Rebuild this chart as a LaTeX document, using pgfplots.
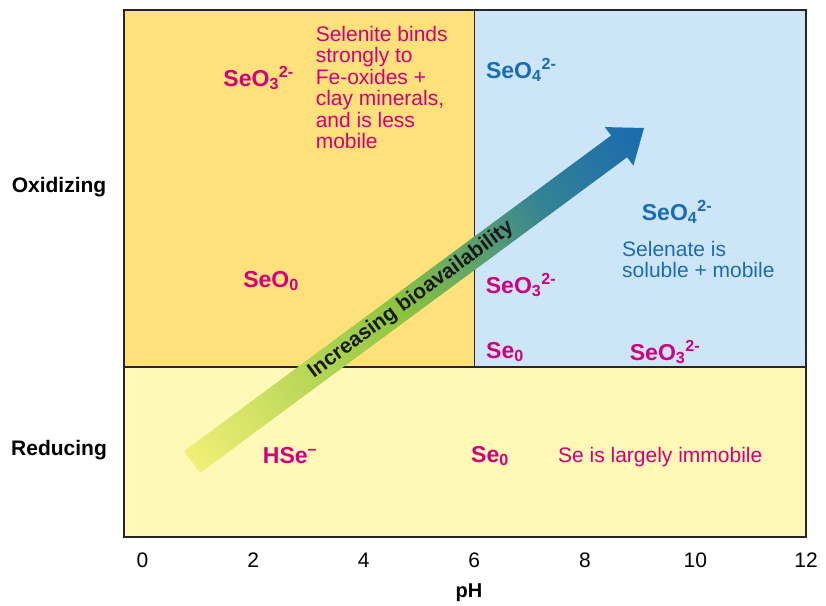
\documentclass[border=0pt]{standalone}
\usepackage{fontspec}
\setmainfont{Liberation Sans}
\usepackage{pgfplots}
\pgfplotsset{compat=1.18}

\definecolor{oxyel}{RGB}{254,225,122}
\definecolor{oxblue}{RGB}{205,230,247}
\definecolor{redyel}{RGB}{255,248,183}
\definecolor{mag}{RGB}{209,0,125}
\definecolor{sblue}{RGB}{26,107,181}
\definecolor{arrY}{RGB}{255,246,125}
\definecolor{arrG}{RGB}{140,196,64}
\definecolor{arrT}{RGB}{50,130,150}
\definecolor{arrB}{RGB}{24,104,178}
\pgfdeclarehorizontalshading{bio}{100bp}{color(0bp)=(arrY); color(12bp)=(arrY); color(48bp)=(arrG); color(70bp)=(arrT); color(86bp)=(arrB); color(100bp)=(arrB)}

\newcommand{\reg}{\fontsize{21bp}{21.5bp}\selectfont}
\newcommand{\spc}{\bfseries\fontsize{23bp}{23bp}\selectfont}

\begin{document}
\begin{tikzpicture}
\path (0,0) rectangle (826bp,606bp);
\begin{axis}[
    at={(124bp,69bp)}, anchor=south west,
    width=682bp, height=527bp, scale only axis,
    xmin=-0.335, xmax=12, ymin=0, ymax=527,
    xtick={0,2,...,12}, ytick=\empty,
    major tick length=0pt,
    /pgf/number format/assume math mode=true,
    xticklabel style={font=\fontsize{21bp}{21bp}\selectfont,
        text height=15bp, text depth=0pt, yshift=-12bp},
    axis line style={draw=black!85, line width=1.3bp},
    axis on top, clip=false,
    xlabel={pH},
    xlabel style={font=\bfseries\fontsize{20bp}{20bp}\selectfont,
        at={(axis description cs:0.5,0)}, anchor=center, yshift=-56bp, xshift=4bp},
]
% regions
\addplot[fill=oxyel, draw=none] coordinates {(-0.335,170) (6,170) (6,527) (-0.335,527)} -- cycle;
\addplot[fill=oxblue, draw=none] coordinates {(6,170) (12,170) (12,527) (6,527)} -- cycle;
\addplot[fill=redyel, draw=none] coordinates {(-0.335,0) (12,0) (12,170) (-0.335,170)} -- cycle;
\addplot[black!85, line width=1.3bp] coordinates {(-0.335,170) (12,170)};
\addplot[black!85, line width=1.3bp] coordinates {(6,170) (6,527)};

% arrow
\shade[shading=bio, shading angle=36.5]
    (axis cs:1.040,64.1) -- (axis cs:0.751,85.9) -- (axis cs:8.475,401.5)
    -- (axis cs:8.361,409.9) -- (axis cs:9.070,409) -- (axis cs:8.879,371.3)
    -- (axis cs:8.765,379.7) -- cycle;
\node[rotate=36.5, text=black!90, font=\bfseries\fontsize{21bp}{21bp}\selectfont]
    at (axis cs:4.856,237) {Increasing bioavailability};

% side labels
\node[font=\bfseries\fontsize{21bp}{21bp}\selectfont] at (axis cs:-1.51,350) {Oxidizing};
\node[font=\bfseries\fontsize{21bp}{21bp}\selectfont] at (axis cs:-1.51,87) {Reducing};

% species
\node[text=mag, font=\spc] at (axis cs:2.10,459) {SeO\textsubscript{3}\textsuperscript{2-}};
\node[text=mag, font=\reg, anchor=north west, align=left, inner sep=0pt]
    at (axis cs:3.13,511) {Selenite binds\\strongly to\\Fe-oxides +\\clay minerals,\\and is less\\mobile};
\node[text=mag, font=\spc] at (axis cs:2.324,256) {SeO\textsubscript{0}};
\node[text=sblue, font=\spc] at (axis cs:6.85,467) {SeO\textsubscript{4}\textsuperscript{2-}};
\node[text=sblue, font=\spc] at (axis cs:9.667,325) {SeO\textsubscript{4}\textsuperscript{2-}};
\node[text=sblue, font=\reg, anchor=north west, align=left, inner sep=0pt]
    at (axis cs:8.672,296) {Selenate is\\soluble + mobile};
\node[text=mag, font=\spc] at (axis cs:6.846,252) {SeO\textsubscript{3}\textsuperscript{2-}};
\node[text=mag, font=\spc] at (axis cs:6.556,185) {Se\textsubscript{0}};
\node[text=mag, font=\spc] at (axis cs:9.450,185) {SeO\textsubscript{3}\textsuperscript{2-}};
\node[text=mag, font=\spc] at (axis cs:2.668,81) {HSe\textsuperscript{–}};
\node[text=mag, font=\spc] at (axis cs:6.285,81) {Se\textsubscript{0}};
\node[text=mag, font=\reg, anchor=west, inner sep=0pt] at (axis cs:7.513,80) {Se is largely immobile};
\end{axis}
\end{tikzpicture}
\end{document}
